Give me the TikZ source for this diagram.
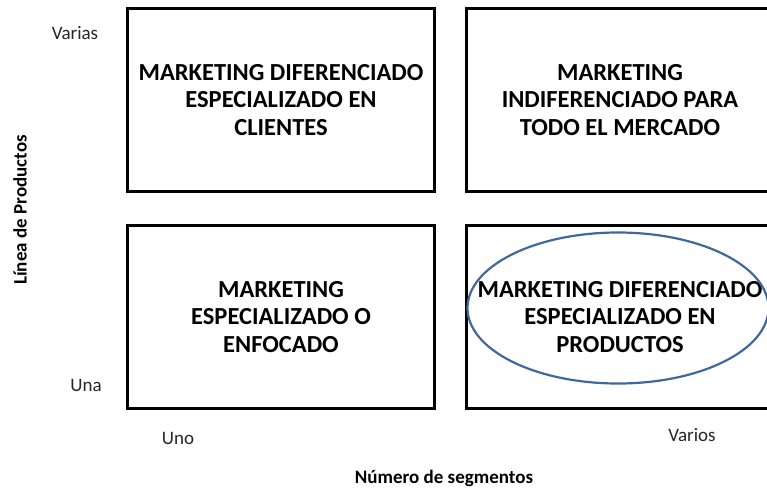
\documentclass[tikz,border=0pt]{standalone}
\usepackage{fontspec}
\setmainfont{Carlito}
\usetikzlibrary{shapes.geometric}
\begin{document}
\begin{tikzpicture}[x=1pt,y=-1pt,
  quad/.style={draw=black,line width=3.2pt,rectangle,minimum width=307pt,minimum height=183pt,inner sep=0pt,
    align=center,font=\fontsize{24.5}{27.5}\selectfont\bfseries},
  axlab/.style={font=\fontsize{19}{22}\selectfont,text=black!85,inner sep=0pt},
  axtitle/.style={font=\fontsize{19}{22}\selectfont\bfseries,inner sep=0pt}
]
\useasboundingbox (0,0) rectangle (767,493);
\clip (0,0) rectangle (767,493);
\definecolor{ellblue}{HTML}{41689A}
\node[quad] (tl) at (281,100) {MARKETING DIFERENCIADO\\ESPECIALIZADO EN\\CLIENTES};
\node[quad] (tr) at (620,100) {MARKETING\\INDIFERENCIADO PARA\\TODO EL MERCADO};
\node[quad] (bl) at (281,317) {MARKETING\\ESPECIALIZADO O\\ENFOCADO};
\node[quad] (br) at (620,317) {MARKETING DIFERENCIADO\\ESPECIALIZADO EN\\PRODUCTOS};
\node[ellipse,draw=ellblue,line width=2.2pt,minimum width=301pt,minimum height=151pt,inner sep=0pt] (el) at (618,308) {};
\node[axlab] (varias) at (75,33) {Varias};
\node[axlab] (una) at (86,385) {Una};
\node[axlab] (uno) at (178,438) {Uno};
\node[axlab] (varios) at (692,435) {Varios};
\node[axtitle,rotate=90] (ylab) at (20,210) {Línea de Productos};
\node[axtitle] (xlab) at (444,478) {Número de segmentos};
\end{tikzpicture}
\end{document}
